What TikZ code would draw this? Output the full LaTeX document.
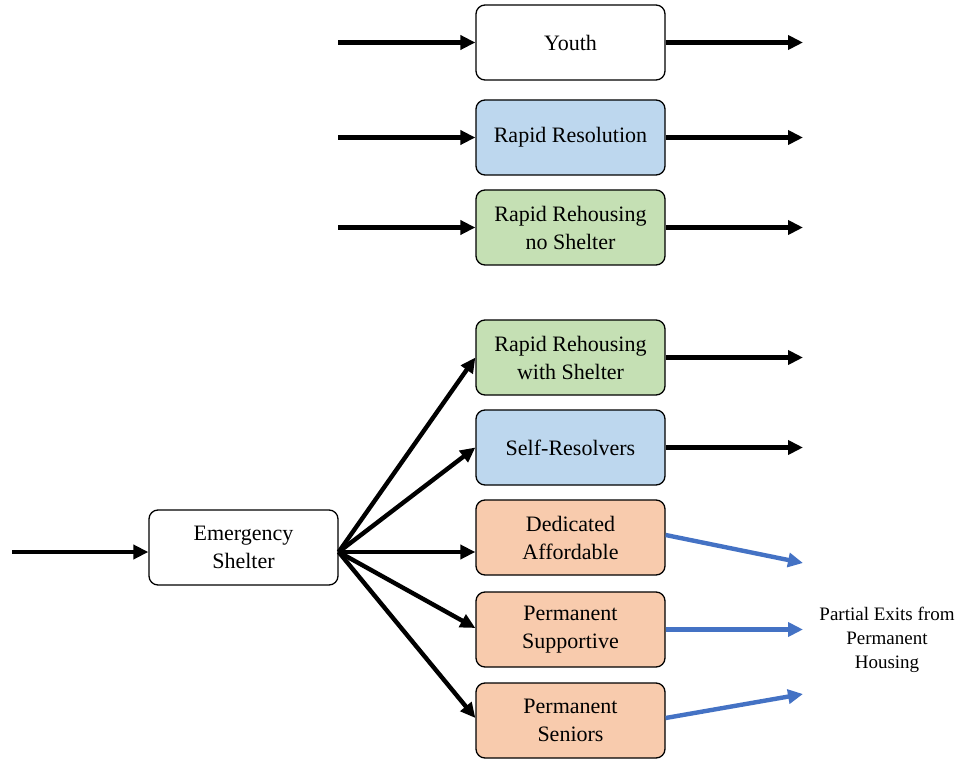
\documentclass[tikz,border=0pt]{standalone}
\usepackage{fontspec}
\setmainfont{Liberation Serif}
\usetikzlibrary{arrows.meta,calc}
\definecolor{boxblue}{HTML}{BDD7EE}
\definecolor{boxgreen}{HTML}{C5E0B4}
\definecolor{boxorange}{HTML}{F8CBAD}
\definecolor{exitblue}{HTML}{4472C4}
\begin{document}
\begin{tikzpicture}[x=1pt,y=-1pt,
  stagebox/.style={draw=black, line width=1.3pt, rounded corners=9pt,
    minimum width=189pt, minimum height=75pt, inner sep=0pt, align=center,
    font=\fontsize{22}{28}\selectfont},
  flow/.style={line width=4.4pt, -{Triangle[length=15pt,width=14pt]}},
  exitflow/.style={line width=4.4pt, draw=exitblue, -{Triangle[length=15pt,width=14pt]}, exitblue}
]
\useasboundingbox (0,0) rectangle (958,759);

\node[stagebox, fill=white] (youth) at (570.5,42.5) {Youth};
\node[stagebox, fill=boxblue] (rr) at (570.5,137.5) {Rapid Resolution};
\node[stagebox, fill=boxgreen] (rrns) at (570.5,227.5) {Rapid Rehousing\\no Shelter};
\node[stagebox, fill=boxgreen] (rrws) at (570.5,357.5) {Rapid Rehousing\\with Shelter};
\node[stagebox, fill=boxblue] (sr) at (570.5,447.5) {Self-Resolvers};
\node[stagebox, fill=boxorange] (da) at (570.5,537.5) {Dedicated\\Affordable};
\node[stagebox, fill=boxorange] (ps) at (570.5,629.5) {Permanent\\Supportive};
\node[stagebox, fill=boxorange] (sen) at (570.5,720.5) {Permanent\\Seniors};
\node[stagebox, fill=white] (es) at (243.5,547.5) {Emergency\\Shelter};

\node[align=center, font=\fontsize{19}{24}\selectfont, inner sep=0pt] (exits) at (887,640) {Partial Exits from\\Permanent\\Housing};

% free ends
\coordinate (inYouth) at (338,42.5);
\coordinate (inRR) at (338,137.5);
\coordinate (inRRNS) at (338,227.5);
\coordinate (inES) at (12,552);
\coordinate (outYouth) at (803,42.5);
\coordinate (outRR) at (803,137.5);
\coordinate (outRRNS) at (803,227.5);
\coordinate (outRRWS) at (803,357.5);
\coordinate (outSR) at (803,447.5);
\coordinate (exitDA) at (803,563);
\coordinate (exitPS) at (803,629.5);
\coordinate (exitSen) at (803,694);

% fan ends on box edges
\coordinate (esOut) at ($(es.east)+(0,4.5)$);
\coordinate (esIn) at ($(es.west)+(0,4.5)$);
\coordinate (daIn) at ($(da.west)+(0,14.5)$);
\coordinate (psIn) at ($(ps.west)+(0,-1.5)$);
\coordinate (senIn) at ($(sen.west)+(0,-2.5)$);
\coordinate (daOut) at ($(da.east)+(0,-2.5)$);
\coordinate (senOut) at ($(sen.east)+(0,-2.5)$);

\draw[flow] (inYouth) -- (youth.west);
\draw[flow] (inRR) -- (rr.west);
\draw[flow] (inRRNS) -- (rrns.west);
\draw[flow] (youth.east) -- (outYouth);
\draw[flow] (rr.east) -- (outRR);
\draw[flow] (rrns.east) -- (outRRNS);
\draw[flow] (rrws.east) -- (outRRWS);
\draw[flow] (sr.east) -- (outSR);

\draw[flow] (inES) -- (esIn);
\draw[flow] (esOut) -- (rrws.west);
\draw[flow] (esOut) -- (sr.west);
\draw[flow] (esOut) -- (daIn);
\draw[flow] (esOut) -- (psIn);
\draw[flow] (esOut) -- (senIn);

\draw[exitflow] (daOut) -- (exitDA);
\draw[exitflow] (ps.east) -- (exitPS);
\draw[exitflow] (senOut) -- (exitSen);
\end{tikzpicture}
\end{document}
